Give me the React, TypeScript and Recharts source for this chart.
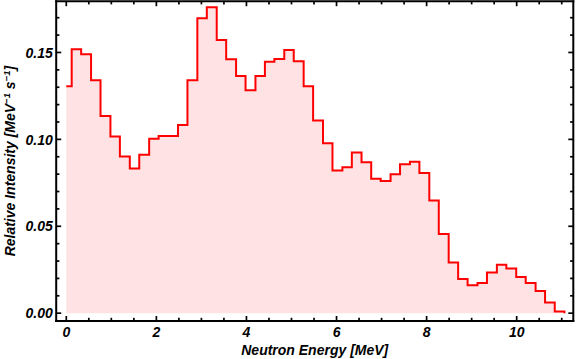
import React from 'react';
import { ComposedChart, Area, XAxis, YAxis, Label } from 'recharts';

// Bin edges (MeV); last edge closes the final bin
const binEdges = [
  0, 0.12, 0.33, 0.55, 0.76, 0.98, 1.19, 1.41, 1.62, 1.84, 2.05, 2.265, 2.48,
  2.69, 2.91, 3.12, 3.34, 3.55, 3.77, 3.98, 4.2, 4.41, 4.62, 4.84, 5.05, 5.27,
  5.48, 5.7, 5.91, 6.13, 6.34, 6.555, 6.77, 6.98, 7.2, 7.41, 7.63, 7.84, 8.06,
  8.27, 8.49, 8.7, 8.91, 9.13, 9.34, 9.56, 9.77, 9.99, 10.2, 10.42, 10.63,
  10.845, 11.06,
];

// Relative intensity per bin [MeV^-1 s^-1]
const intensity = [
  0.1306, 0.1518, 0.149, 0.134, 0.1135, 0.1016, 0.0901, 0.0833, 0.0912, 0.1003,
  0.102, 0.102, 0.1082, 0.134, 0.1697, 0.176, 0.1572, 0.1461, 0.1365, 0.1283,
  0.1365, 0.1447, 0.1463, 0.1514, 0.1449, 0.1306, 0.1108, 0.0978, 0.0821,
  0.0839, 0.0924, 0.0868, 0.0774, 0.0761, 0.08, 0.0857, 0.0871, 0.0806, 0.0648,
  0.0456, 0.0292, 0.0197, 0.016, 0.0174, 0.0234, 0.0279, 0.0257, 0.0208,
  0.0174, 0.0128, 0.0062, 0.001,
];

const xTickValues = [
  0, 0.5, 1, 1.5, 2, 2.5, 3, 3.5, 4, 4.5, 5, 5.5, 6, 6.5, 7, 7.5, 8, 8.5, 9,
  9.5, 10, 10.5, 11,
];
const xTickLabels: Record<string, string> = {
  '0': '0', '2': '2', '4': '4', '6': '6', '8': '8', '10': '10',
};

const yTickValues = [
  0, 0.01, 0.02, 0.03, 0.04, 0.05, 0.06, 0.07, 0.08, 0.09, 0.1, 0.11, 0.12,
  0.13, 0.14, 0.15, 0.16, 0.17,
];
const yTickLabels: Record<string, string> = {
  '0': '0.00', '0.05': '0.05', '0.1': '0.10', '0.15': '0.15',
};

const data = binEdges.map((e, i) => ({
  energy: e,
  intensity: i < intensity.length ? intensity[i] : 0,
}));

const FONT = '"Liberation Sans", Arial, Helvetica, sans-serif';
const MAJOR = 5;
const MINOR = 3.2;
const TW = 1.7;

const labelStyle = {
  fontFamily: FONT,
  fontWeight: 'bold' as const,
  fontStyle: 'italic' as const,
  fontSize: 14,
  fill: '#000',
};

const BottomTick = (p: any) => {
  const { x, y, payload } = p;
  const lab = xTickLabels[String(payload.value)];
  const len = lab ? MAJOR : MINOR;
  return (
    <g>
      <line x1={x} x2={x} y1={y} y2={y - len} stroke="#000" strokeWidth={TW} />
      {lab && (
        <text x={x} y={y + 16} textAnchor="middle" style={labelStyle}>
          {lab}
        </text>
      )}
    </g>
  );
};

const TopTick = (p: any) => {
  const { x, y, payload } = p;
  const lab = xTickLabels[String(payload.value)];
  const len = lab ? MAJOR : MINOR;
  return <line x1={x} x2={x} y1={y} y2={y + len} stroke="#000" strokeWidth={TW} />;
};

const LeftTick = (p: any) => {
  const { x, y, payload } = p;
  const lab = yTickLabels[String(payload.value)];
  const len = lab ? MAJOR : MINOR;
  return (
    <g>
      <line x1={x} x2={x + len} y1={y} y2={y} stroke="#000" strokeWidth={TW} />
      {lab && (
        <text x={x - 3.4} y={y + 5.2} textAnchor="end" style={labelStyle}>
          {lab}
        </text>
      )}
    </g>
  );
};

const RightTick = (p: any) => {
  const { x, y, payload } = p;
  const lab = yTickLabels[String(payload.value)];
  const len = lab ? MAJOR : MINOR;
  return <line x1={x} x2={x - len} y1={y} y2={y} stroke="#000" strokeWidth={TW} />;
};

const XLabel = (p: any) => {
  const vb = p.viewBox || {};
  const cx = vb.x + vb.width / 2;
  return (
    <text x={cx} y={vb.y + 34.2} textAnchor="middle" style={labelStyle}>
      Neutron Energy [MeV]
    </text>
  );
};

const YLabel = (p: any) => {
  const vb = p.viewBox || {};
  const cy = vb.y + vb.height / 2;
  const bx = 15.3;
  return (
    <text
      x={bx}
      y={cy}
      textAnchor="middle"
      transform={`rotate(-90, ${bx}, ${cy})`}
      style={labelStyle}
    >
      Relative Intensity [MeV
      <tspan fontSize={9.5} dy={-5.5}>−1</tspan>
      <tspan dy={5.5}> s</tspan>
      <tspan fontSize={9.5} dy={-5.5}>−1</tspan>
      <tspan dy={5.5}>]</tspan>
    </text>
  );
};

const axisLine = { stroke: '#000', strokeWidth: 2, strokeLinecap: 'square' as const };
const X_DOMAIN: [number, number] = [-0.224, 11.257];
const Y_DOMAIN: [number, number] = [-0.0045, 0.1795];

export default function App() {
  return (
    <div style={{ position: 'absolute', left: 0, top: 0 }}>
      <ComposedChart
        width={576}
        height={359}
        data={data}
        margin={{ top: 0, right: 1.7, bottom: 0, left: 0 }}
      >
        <XAxis
          dataKey="energy"
          type="number"
          domain={X_DOMAIN}
          allowDataOverflow
          ticks={xTickValues}
          interval={0}
          height={38}
          tickSize={0}
          tickMargin={0}
          tickLine={false}
          axisLine={axisLine}
          tick={<BottomTick />}
        >
          <Label content={<XLabel />} />
        </XAxis>
        <XAxis
          xAxisId="top"
          orientation="top"
          dataKey="energy"
          type="number"
          domain={X_DOMAIN}
          allowDataOverflow
          ticks={xTickValues}
          interval={0}
          height={1.2}
          tickSize={0}
          tickMargin={0}
          tickLine={false}
          axisLine={axisLine}
          tick={<TopTick />}
        />
        <YAxis
          type="number"
          domain={Y_DOMAIN}
          allowDataOverflow
          ticks={yTickValues}
          interval={0}
          width={56.2}
          tickSize={0}
          tickMargin={0}
          tickLine={false}
          axisLine={axisLine}
          tick={<LeftTick />}
        >
          <Label content={<YLabel />} />
        </YAxis>
        <YAxis
          yAxisId="right"
          orientation="right"
          type="number"
          domain={Y_DOMAIN}
          allowDataOverflow
          ticks={yTickValues}
          interval={0}
          width={1}
          tickSize={0}
          tickMargin={0}
          tickLine={false}
          axisLine={axisLine}
          tick={<RightTick />}
        />
        <Area
          type="stepAfter"
          dataKey="intensity"
          stroke="#ff0000"
          strokeWidth={2}
          strokeLinejoin="miter"
          fill="#ffe2e4"
          fillOpacity={1}
          isAnimationActive={false}
          dot={false}
          activeDot={false}
        />
      </ComposedChart>
    </div>
  );
}
